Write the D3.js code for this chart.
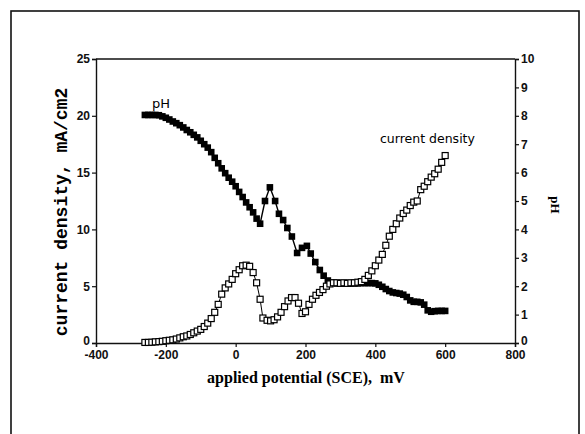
<!DOCTYPE html>
<html>
<head>
<meta charset="utf-8">
<script src="https://cdn.jsdelivr.net/npm/d3@7"></script>
<style>
  body { margin: 0; background: #fff; }
  svg { display: block; }
</style>
</head>
<body>
<svg id="chart" width="585" height="434"></svg>
<script>
// pH (right axis)
var phPotential = [-260, -250, -240, -230, -220, -210, -200, -190, -180, -170, -160, -150, -140, -130, -120, -110, -100, -90, -80, -70, -60, -50, -40, -30, -20, -10, 0, 10, 20, 30, 40, 50, 60, 70, 84, 98, 113, 124, 136, 148, 161, 176, 190, 204, 215, 228, 241, 252, 264, 275, 290, 300, 310, 320, 330, 340, 350, 360, 370, 380, 390, 400, 410, 420, 430, 440, 450, 460, 470, 480, 490, 500, 510, 520, 530, 540, 550, 560, 570, 580, 590, 600];
var phValues = [8.03, 8.03, 8.03, 8.03, 8.02, 7.98, 7.93, 7.87, 7.8, 7.74, 7.67, 7.59, 7.5, 7.42, 7.33, 7.24, 7.12, 7.0, 6.88, 6.72, 6.52, 6.33, 6.15, 5.98, 5.82, 5.68, 5.52, 5.32, 5.14, 4.95, 4.78, 4.6, 4.38, 4.2, 5.0, 5.48, 5.0, 4.55, 4.33, 4.05, 3.75, 3.17, 3.35, 3.42, 3.15, 2.85, 2.57, 2.37, 2.2, 2.13, 2.1, 2.09, 2.09, 2.1, 2.1, 2.1, 2.1, 2.11, 2.11, 2.11, 2.11, 2.1, 2.05, 1.98, 1.9, 1.83, 1.78, 1.76, 1.74, 1.7, 1.62, 1.5, 1.45, 1.45, 1.43, 1.35, 1.15, 1.1, 1.12, 1.13, 1.13, 1.13];

// current density (left axis), mA/cm2
var cdPotential = [-260, -250, -240, -230, -220, -210, -200, -190, -180, -170, -160, -150, -140, -130, -120, -110, -100, -90, -80, -70, -60, -50, -40, -30, -20, -10, 0, 10, 20, 30, 40, 50, 60, 70, 78, 90, 100, 110, 120, 130, 140, 150, 160, 170, 180, 190, 200, 210, 220, 230, 240, 250, 260, 270, 280, 290, 300, 310, 320, 330, 340, 350, 360, 370, 380, 390, 400, 410, 420, 430, 440, 450, 460, 470, 480, 490, 500, 510, 520, 530, 540, 550, 560, 570, 580, 590, 600];
var cdValues = [0.05, 0.05, 0.07, 0.1, 0.12, 0.15, 0.2, 0.24, 0.28, 0.35, 0.45, 0.55, 0.62, 0.75, 0.9, 1.05, 1.2, 1.45, 1.75, 2.15, 2.7, 3.4, 4.3, 4.85, 5.2, 5.6, 6.1, 6.45, 6.8, 6.85, 6.75, 6.2, 5.3, 3.85, 2.2, 2.0, 1.95, 2.05, 2.3, 2.7, 3.2, 3.7, 4.0, 4.0, 3.5, 2.6, 2.75, 3.4, 3.85, 4.2, 4.45, 4.7, 5.0, 5.2, 5.3, 5.3, 5.25, 5.3, 5.25, 5.3, 5.3, 5.35, 5.4, 5.6, 5.95, 6.35, 6.8, 7.3, 7.8, 8.6, 9.4, 10.0, 10.5, 11.0, 11.4, 11.7, 12.1, 12.4, 12.5, 13.5, 13.8, 14.2, 14.6, 14.9, 15.3, 15.9, 16.5];

var xTicks = [-400, -200, 0, 200, 400, 600, 800];
var leftTicks = [0, 5, 10, 15, 20, 25];
var rightTicks = [0, 1, 2, 3, 4, 5, 6, 7, 8, 9, 10];

var svg = d3.select("#chart");

var x = d3.scaleLinear().domain([-400, 800]).range([96, 515]);
var yLeft = d3.scaleLinear().domain([0, 25]).range([343, 59]);
var yRight = d3.scaleLinear().domain([0, 10]).range([343, 59]);

// outer frame
svg.append("rect")
    .attr("x", 11).attr("y", 11)
    .attr("width", 568).attr("height", 440)
    .attr("fill", "none").attr("stroke", "#111").attr("stroke-width", 1.6);

// top edge of plot
svg.append("line")
    .attr("x1", 96).attr("x2", 515).attr("y1", 59).attr("y2", 59)
    .attr("stroke", "#111").attr("stroke-width", 1.3);

var tickFont = "'Liberation Sans', Arial, sans-serif";

var gx = svg.append("g")
    .attr("transform", "translate(0,343)")
    .call(d3.axisBottom(x).tickValues(xTicks).tickSize(4).tickPadding(3).tickFormat(d3.format("d")));
var gl = svg.append("g")
    .attr("transform", "translate(96,0)")
    .call(d3.axisLeft(yLeft).tickValues(leftTicks).tickSize(4).tickPadding(2));
var gr = svg.append("g")
    .attr("transform", "translate(515,0)")
    .call(d3.axisRight(yRight).tickValues(rightTicks).tickSize(4).tickPadding(2));

[gx, gl, gr].forEach(function (g) {
    g.select(".domain").attr("stroke", "#111").attr("stroke-width", 1.4);
    g.selectAll(".tick line").attr("stroke", "#111").attr("stroke-width", 1.2);
    g.selectAll(".tick text")
        .style("font-family", tickFont)
        .style("font-weight", "bold")
        .style("font-size", "12px")
        .attr("fill", "#111");
});
gx.selectAll(".tick text").text(function (d) { return d3.format("d")(d).replace("\u2212", "-"); });
// zero labels sit a bit higher on the y axes, as in the scan
gl.selectAll(".tick text").filter(d => d === 0).attr("dy", "0.1em");
gr.selectAll(".tick text").filter(d => d === 0).attr("dy", "0.1em");

var phData = phPotential.map(function (p, i) { return {x: p, y: phValues[i]}; });
var cdData = cdPotential.map(function (p, i) { return {x: p, y: cdValues[i]}; });

// pH series, filled squares
svg.append("path")
    .datum(phData)
    .attr("fill", "none").attr("stroke", "#000").attr("stroke-width", 1.4)
    .attr("d", d3.line().x(d => x(d.x)).y(d => yRight(d.y)));

svg.selectAll("rect.ph")
    .data(phData).enter()
    .append("rect")
    .attr("class", "ph")
    .attr("x", d => x(d.x) - 3.3)
    .attr("y", d => yRight(d.y) - 3.3)
    .attr("width", 6.6).attr("height", 6.6)
    .attr("fill", "#000");

// current density, open squares
svg.append("path")
    .datum(cdData)
    .attr("fill", "none").attr("stroke", "#000").attr("stroke-width", 1)
    .attr("d", d3.line().x(d => x(d.x)).y(d => yLeft(d.y)));

svg.selectAll("rect.cd")
    .data(cdData).enter()
    .append("rect")
    .attr("class", "cd")
    .attr("x", d => x(d.x) - 3)
    .attr("y", d => yLeft(d.y) - 3)
    .attr("width", 6).attr("height", 6)
    .attr("fill", "#fff").attr("stroke", "#000").attr("stroke-width", 1.2);

// series labels
svg.append("text")
    .attr("x", 152).attr("y", 108)
    .style("font-family", "'DejaVu Sans', sans-serif")
    .style("font-size", "13px")
    .text("pH");
svg.append("text")
    .attr("x", 380).attr("y", 143)
    .style("font-family", "'DejaVu Sans', sans-serif")
    .style("font-size", "12.5px")
    .text("current density");

// axis titles
svg.append("text")
    .attr("x", 306).attr("y", 383)
    .attr("text-anchor", "middle")
    .style("font-family", "'Liberation Serif', 'Times New Roman', serif")
    .style("font-size", "16px")
    .style("font-weight", "bold")
    .style("white-space", "pre")
    .text("applied potential (SCE),  mV");

svg.append("text")
    .attr("transform", "translate(67,212) rotate(-90)")
    .attr("text-anchor", "middle")
    .style("font-family", "'Liberation Mono', 'Courier New', monospace")
    .style("font-size", "18px")
    .style("font-weight", "bold")
    .style("white-space", "pre")
    .text("current density, mA/cm2");

svg.append("text")
    .attr("transform", "translate(551,205) rotate(90)")
    .attr("text-anchor", "middle")
    .style("font-family", "'Liberation Serif', serif")
    .style("font-size", "13px")
    .style("font-weight", "bold")
    .text("pH");
</script>
</body>
</html>
